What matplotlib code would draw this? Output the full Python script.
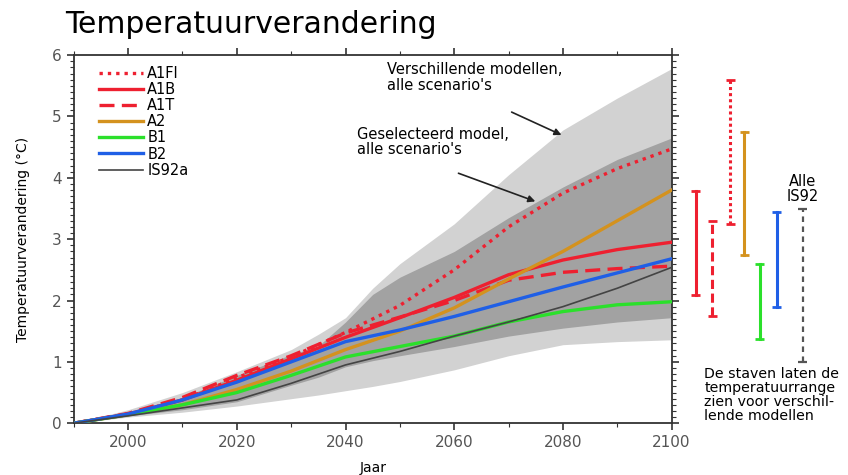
import matplotlib
matplotlib.use("Agg")
import matplotlib.pyplot as plt
import numpy as np
from matplotlib.ticker import MultipleLocator

# ---------------- data ----------------
years = [1990, 2000, 2010, 2020, 2030, 2040, 2050, 2060, 2070, 2080, 2090, 2100]

a1fi  = [0, 0.15, 0.38, 0.74, 1.08, 1.48, 1.92, 2.50, 3.20, 3.75, 4.15, 4.47]
a1b   = [0, 0.15, 0.38, 0.70, 1.05, 1.40, 1.72, 2.05, 2.42, 2.66, 2.83, 2.95]
a1t   = [0, 0.16, 0.42, 0.78, 1.10, 1.47, 1.73, 2.00, 2.33, 2.46, 2.52, 2.56]
a2    = [0, 0.14, 0.30, 0.55, 0.85, 1.20, 1.50, 1.88, 2.35, 2.80, 3.30, 3.80]
b1    = [0, 0.14, 0.30, 0.50, 0.78, 1.08, 1.25, 1.42, 1.65, 1.82, 1.93, 1.98]
b2    = [0, 0.15, 0.38, 0.67, 1.00, 1.33, 1.52, 1.74, 1.98, 2.22, 2.45, 2.68]
is92a = [0, 0.12, 0.25, 0.38, 0.65, 0.95, 1.17, 1.42, 1.65, 1.90, 2.20, 2.54]

band_years  = [1990, 2000, 2010, 2020, 2030, 2035, 2040, 2045, 2050, 2060, 2070, 2080, 2090, 2100]
light_upper = [0, 0.22, 0.50, 0.84, 1.20, 1.45, 1.72, 2.20, 2.60, 3.25, 4.05, 4.78, 5.30, 5.78]
light_lower = [0, 0.10, 0.18, 0.28, 0.40, 0.46, 0.53, 0.60, 0.68, 0.87, 1.10, 1.28, 1.33, 1.36]
dark_upper  = [0, 0.17, 0.42, 0.78, 1.12, 1.26, 1.65, 2.10, 2.38, 2.80, 3.35, 3.85, 4.30, 4.65]
dark_lower  = [0, 0.12, 0.22, 0.35, 0.62, 0.75, 0.92, 1.02, 1.10, 1.25, 1.42, 1.55, 1.65, 1.72]

scen_labels = ["A1FI", "A1B", "A1T", "A2", "B1", "B2", "IS92a"]

bar_names = ["A1B", "A1T", "A1FI", "A2", "B1", "B2", "IS92"]
bar_low   = [2.09, 1.75, 3.24, 2.75, 1.37, 1.90, 1.00]
bar_high  = [3.78, 3.29, 5.60, 4.75, 2.59, 3.44, 3.49]

xticks = [2000, 2020, 2040, 2060, 2080, 2100]
yticks = [0, 1, 2, 3, 4, 5, 6]

# ---------------- styles ----------------
RED = "#ee2030"
ORANGE = "#d4921e"
GREEN = "#2be02b"
BLUE = "#1f5fe6"
DOT = (0, (1.0, 1.5))
DASH = (0, (4.5, 2.2))

fig = plt.figure(figsize=(8.48, 4.75), dpi=100)
ax = fig.add_axes([0.087, 0.109, 0.705, 0.775])

ax.fill_between(band_years, light_lower, light_upper, color="#d2d2d2", lw=0, zorder=1)
ax.fill_between(band_years, dark_lower, dark_upper, color="#a2a2a2", lw=0, zorder=2)

series = [a1fi, a1b, a1t, a2, b1, b2, is92a]
colors = [RED, RED, RED, ORANGE, GREEN, BLUE, "#444444"]
styles = [DOT, "-", DASH, "-", "-", "-", "-"]
widths = [2.4, 2.4, 2.4, 2.4, 2.4, 2.4, 1.2]
for s, c, ls, lw, lab in zip(series, colors, styles, widths, scen_labels):
    ax.plot(years, s, color=c, ls=ls, lw=lw, label=lab, zorder=4)

ax.set_xlim(1990, 2100)
ax.set_ylim(0, 6)
ax.set_xticks(xticks)
ax.xaxis.set_minor_locator(MultipleLocator(10))
ax.set_yticks(yticks)
ax.yaxis.set_minor_locator(MultipleLocator(0.1))
ax.tick_params(axis="both", which="major", direction="out", length=5, width=1.2,
               labelsize=11, top=True, right=True, colors="#333333")
ax.tick_params(axis="both", which="minor", direction="out", length=3, width=0.8,
               top=True, right=True, colors="#333333")
ax.tick_params(axis="x", labelcolor="#555555")
ax.tick_params(axis="y", labelcolor="#555555")
for sp in ax.spines.values():
    sp.set_linewidth(1.3)
    sp.set_color("#333333")

ax.set_xlabel("Jaar", fontsize=10, labelpad=8)
ax.set_ylabel("Temperatuurverandering (°C)", fontsize=10, labelpad=16)

fig.text(0.077, 0.948, "Temperatuurverandering", fontsize=21.5, va="center", ha="left")

leg = ax.legend(loc="upper left", bbox_to_anchor=(0.028, 0.995), frameon=False,
                handlelength=3.0, handletextpad=0.3, labelspacing=0.08, fontsize=10.5,
                borderaxespad=0.2)

# annotations
ax.text(2047.7, 5.88, "Verschillende modellen,\nalle scenario's", fontsize=10.5,
        va="top", ha="left", linespacing=1.05, zorder=6)
ax.annotate("", xy=(2080.2, 4.68), xytext=(2070.1, 5.09),
            arrowprops=dict(arrowstyle="-|>", color="#222222", lw=1.2, mutation_scale=10), zorder=6)
ax.text(2042.2, 4.83, "Geselecteerd model,\nalle scenario's", fontsize=10.5,
        va="top", ha="left", linespacing=1.05, zorder=6)
ax.annotate("", xy=(2075.4, 3.60), xytext=(2060.3, 4.09),
            arrowprops=dict(arrowstyle="-|>", color="#222222", lw=1.2, mutation_scale=10), zorder=6)

# range bars to the right of the axes
bar_x = [2104.4, 2107.5, 2110.8, 2113.4, 2116.2, 2119.3, 2124.1]
bar_colors = [RED, RED, RED, ORANGE, GREEN, BLUE, "#555555"]
bar_styles = ["-", (0, (3, 1.5)), (0, (1, 1)), "-", "-", "-", (0, (2.5, 2))]
cap = 0.8
for x, lo, hi, c, ls in zip(bar_x, bar_low, bar_high, bar_colors, bar_styles):
    ax.plot([x, x], [lo, hi], color=c, ls=ls, lw=2.2 if c != "#555555" else 1.6,
            clip_on=False, zorder=5)
    for yv in (lo, hi):
        ax.plot([x - cap, x + cap], [yv, yv], color=c, lw=2.0 if c != "#555555" else 1.6,
                clip_on=False, zorder=5, solid_capstyle="butt")

ax.text(bar_x[-1], 3.58, "Alle\nIS92", fontsize=10.5, ha="center", va="bottom",
        linespacing=1.0)
ax.text(2106.0, 0.92, "De staven laten de\ntemperatuurrange\nzien voor verschil-\nlende modellen",
        fontsize=10.2, ha="left", va="top", linespacing=1.0)

fig.savefig("out.png", dpi=100)
